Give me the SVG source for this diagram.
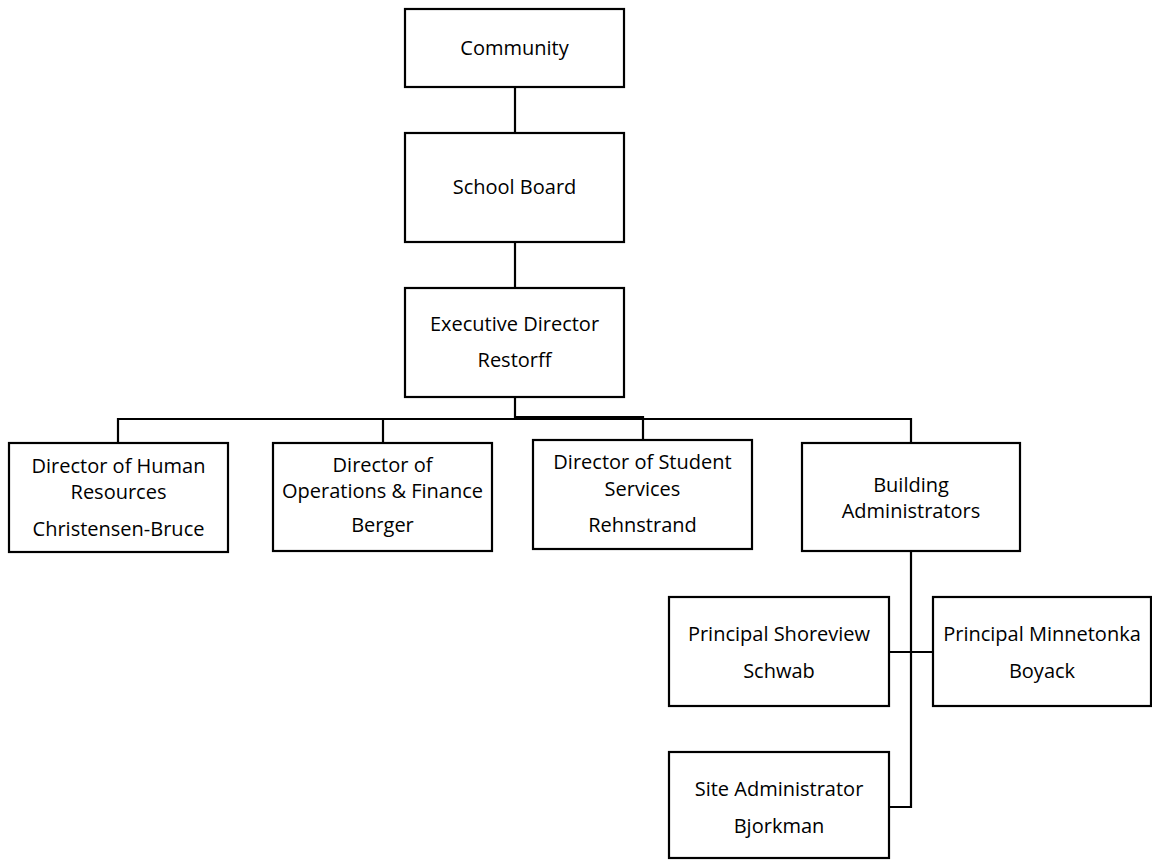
<svg xmlns="http://www.w3.org/2000/svg" width="1152" height="860" viewBox="0 0 1152 860">
<style>
.box{fill:#fff;stroke:#000;stroke-width:2.2}
.t{font-family:"Open Sans","Liberation Sans",sans-serif;font-size:20px;fill:#000;text-anchor:middle}
.c{fill:none;stroke:#000;stroke-width:2.2}
</style>
<rect width="1152" height="860" fill="#fff"/>
<g id="connectors">
<path class="c" d="M515,87V133"/>
<path class="c" d="M515,242V288"/>
<path class="c" d="M515,397V419"/>
<path class="c" d="M118,443V419H911V443"/>
<path class="c" d="M383,419V443"/>
<path class="c" d="M515,417H643V440"/>
<path class="c" d="M911,551V807H889"/>
<path class="c" d="M889,652H933"/>
</g>
<g id="community"><rect class="box" x="405" y="9" width="219" height="78"/><text class="t" x="514.5" y="55">Community</text></g>
<g id="school-board"><rect class="box" x="405" y="133" width="219" height="109"/><text class="t" x="514.5" y="194">School Board</text></g>
<g id="executive-director"><rect class="box" x="405" y="288" width="219" height="109"/><text class="t" x="514.5" y="331">Executive Director</text><text class="t" x="514.5" y="367">Restorff</text></g>
<g id="hr"><rect class="box" x="9" y="443" width="219" height="109"/><text class="t" x="118.5" y="473">Director of Human</text><text class="t" x="118.5" y="499">Resources</text><text class="t" x="118.5" y="536">Christensen-Bruce</text></g>
<g id="operations"><rect class="box" x="273" y="443" width="219" height="108"/><text class="t" x="382.5" y="472">Director of</text><text class="t" x="382.5" y="498">Operations &amp; Finance</text><text class="t" x="382.5" y="532">Berger</text></g>
<g id="student-services"><rect class="box" x="533" y="440" width="219" height="109"/><text class="t" x="642.5" y="469">Director of Student</text><text class="t" x="642.5" y="496">Services</text><text class="t" x="642.5" y="532">Rehnstrand</text></g>
<g id="building-admins"><rect class="box" x="802" y="443" width="218" height="108"/><text class="t" x="911" y="492">Building</text><text class="t" x="911" y="518">Administrators</text></g>
<g id="principal-shoreview"><rect class="box" x="669" y="597" width="220" height="109"/><text class="t" x="779" y="641">Principal Shoreview</text><text class="t" x="779" y="678">Schwab</text></g>
<g id="principal-minnetonka"><rect class="box" x="933" y="597" width="218" height="109"/><text class="t" x="1042" y="641">Principal Minnetonka</text><text class="t" x="1042" y="678">Boyack</text></g>
<g id="site-admin"><rect class="box" x="669" y="752" width="220" height="106"/><text class="t" x="779" y="796">Site Administrator</text><text class="t" x="779" y="833">Bjorkman</text></g>
</svg>
